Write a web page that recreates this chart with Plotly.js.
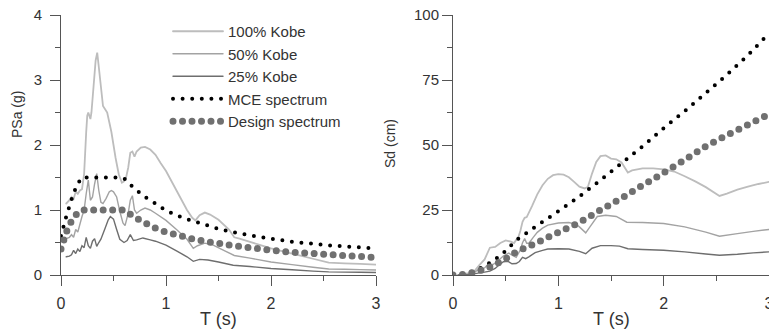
<!DOCTYPE html>
<html><head><meta charset="utf-8">
<script src="https://cdn.plot.ly/plotly-3.0.1.min.js"></script>
<style>
html,body{margin:0;padding:0;background:#fff;}
#chart{width:769px;height:333px;}
.js-line{stroke-linecap:round;}
</style></head>
<body><div id="chart"></div>
<script>
// ---- Left panel: pseudo-spectral acceleration PSa (g) vs period T (s)
const psaT100 = [0.05,0.08,0.10,0.12,0.14,0.16,0.18,0.20,0.22,0.24,0.25,0.26,0.27,0.28,0.29,0.31,0.33,0.345,0.36,0.38,0.40,0.42,0.44,0.46,0.48,0.50,0.52,0.55,0.58,0.60,0.62,0.64,0.66,0.68,0.70,0.72,0.76,0.80,0.85,0.90,0.95,1.00,1.05,1.10,1.15,1.20,1.25,1.28,1.32,1.37,1.42,1.50,1.60,1.65,1.70,1.80,1.90,2.00,2.20,2.40,2.55,2.70,2.85,3.00];
const psa100  = [1.10,1.15,1.20,1.17,1.28,1.25,1.30,1.32,1.55,2.20,2.45,2.50,2.45,2.40,2.50,2.90,3.30,3.42,3.20,2.90,2.60,2.55,2.50,2.35,2.20,2.00,1.80,1.55,1.42,1.44,1.50,1.65,1.88,1.90,1.82,1.90,1.96,1.97,1.93,1.85,1.72,1.60,1.45,1.30,1.15,1.00,0.88,0.84,0.92,0.96,0.93,0.85,0.70,0.58,0.56,0.51,0.46,0.41,0.33,0.25,0.19,0.18,0.17,0.16];

const psaT50 = [0.05,0.08,0.10,0.12,0.14,0.16,0.18,0.20,0.22,0.24,0.26,0.28,0.30,0.32,0.34,0.36,0.38,0.40,0.43,0.46,0.48,0.50,0.53,0.56,0.59,0.61,0.64,0.66,0.68,0.70,0.72,0.76,0.80,0.85,0.90,1.00,1.10,1.20,1.26,1.30,1.37,1.45,1.55,1.65,1.80,2.00,2.20,2.40,2.55,2.70,2.85,3.00];
const psa50  = [0.56,0.58,0.62,0.58,0.70,0.66,0.78,0.90,1.00,1.25,1.46,1.15,1.20,1.40,1.56,1.30,1.12,1.10,1.18,1.28,1.30,1.28,1.20,0.98,0.80,0.76,0.95,1.15,1.22,1.00,0.95,1.00,1.03,1.00,0.95,0.84,0.70,0.55,0.41,0.45,0.49,0.46,0.38,0.30,0.26,0.20,0.16,0.12,0.092,0.088,0.083,0.078];

const psaT25 = [0.05,0.08,0.10,0.12,0.14,0.16,0.18,0.20,0.22,0.24,0.26,0.28,0.30,0.32,0.34,0.36,0.38,0.42,0.45,0.47,0.50,0.53,0.56,0.60,0.63,0.66,0.69,0.72,0.78,0.85,0.90,1.00,1.10,1.20,1.26,1.32,1.40,1.50,1.64,1.80,2.00,2.20,2.40,2.55,2.70,2.85,3.00];
const psa25  = [0.28,0.29,0.31,0.38,0.33,0.40,0.36,0.45,0.42,0.58,0.45,0.41,0.52,0.56,0.44,0.50,0.55,0.72,0.85,0.90,0.86,0.70,0.55,0.50,0.53,0.62,0.53,0.54,0.57,0.54,0.52,0.46,0.37,0.28,0.21,0.24,0.23,0.20,0.15,0.13,0.10,0.08,0.06,0.048,0.045,0.042,0.039];

const psaTcode = [0,0.05,0.1,0.15,0.2,0.3,0.4,0.5,0.6,0.7,0.8,0.9,1.0,1.1,1.2,1.3,1.4,1.5,1.6,1.8,2.0,2.2,2.4,2.6,2.8,3.0];
const psaMce   = [0.60,0.90,1.16,1.38,1.50,1.50,1.50,1.50,1.49,1.33,1.20,1.10,0.99,0.92,0.86,0.81,0.76,0.71,0.67,0.61,0.56,0.51,0.48,0.45,0.43,0.41];
const psaDes   = [0.40,0.66,0.83,0.94,1.00,1.00,1.00,1.00,1.00,0.89,0.80,0.72,0.66,0.62,0.575,0.54,0.51,0.49,0.46,0.42,0.38,0.35,0.33,0.31,0.29,0.27];

// ---- Right panel: spectral displacement Sd (cm) vs period T (s)
const sdT100 = [0.05,0.10,0.15,0.20,0.25,0.30,0.35,0.40,0.45,0.50,0.55,0.58,0.60,0.62,0.64,0.66,0.68,0.70,0.75,0.80,0.85,0.90,0.95,1.00,1.05,1.10,1.15,1.20,1.25,1.28,1.32,1.36,1.40,1.45,1.50,1.55,1.60,1.66,1.70,1.80,1.90,2.00,2.10,2.20,2.30,2.40,2.53,2.60,2.70,2.80,2.90,3.00];
const sd100  = [0.07,0.3,0.7,1.3,3.8,6.0,10.5,10.8,12.3,13.3,12.8,12.3,13.5,14.5,17.0,20.5,22.0,22.3,26.5,31.0,34.5,37.0,38.4,38.8,38.6,37.6,35.8,34.0,33.3,33.8,39.0,43.5,45.7,46.0,44.8,44.5,43.3,39.4,40.2,41.0,41.0,40.6,39.8,38.0,36.0,33.8,30.4,31.3,32.8,34.0,35.0,35.8];

const sdT50 = [0.05,0.10,0.15,0.20,0.25,0.30,0.34,0.38,0.42,0.48,0.53,0.56,0.60,0.64,0.66,0.68,0.70,0.72,0.76,0.80,0.85,0.90,1.00,1.10,1.17,1.20,1.26,1.30,1.37,1.45,1.55,1.65,1.80,2.00,2.20,2.40,2.53,2.70,2.85,3.00];
const sd50  = [0.03,0.15,0.4,0.9,2.3,2.7,4.4,4.0,5.2,7.4,8.4,7.6,6.8,9.7,12.4,14.0,12.2,12.2,14.4,16.4,18.0,19.2,20.0,20.2,19.5,18.5,16.2,18.5,22.5,23.0,22.5,20.3,20.2,19.8,18.5,16.5,14.9,15.9,16.8,17.5];

const sdT25 = [0.05,0.10,0.15,0.20,0.25,0.30,0.35,0.40,0.45,0.48,0.52,0.56,0.60,0.63,0.66,0.69,0.72,0.78,0.85,0.90,1.00,1.10,1.20,1.26,1.32,1.40,1.50,1.58,1.66,1.80,2.00,2.20,2.40,2.53,2.70,2.85,3.00];
const sd25  = [0.02,0.08,0.23,0.45,0.8,1.1,1.5,2.5,4.3,5.1,5.3,4.3,4.4,5.2,6.8,6.3,7.0,8.6,9.5,10.0,10.1,10.0,9.1,8.2,10.3,11.3,11.3,11.1,10.1,9.8,9.5,8.9,8.1,7.6,8.0,8.5,8.9];

const sdTcode = [0,0.1,0.2,0.3,0.4,0.5,0.6,0.7,0.8,0.9,1.0,1.2,1.4,1.6,1.8,2.0,2.2,2.4,2.6,2.8,3.0];
const sdMce   = [0,0.3,1.5,3.4,6.0,9.3,13.4,16.2,19.1,21.8,24.5,30.2,36.5,43.0,49.5,56.5,63.0,70.0,77.0,84.5,93.0];
const sdDes   = [0,0.2,1.0,2.2,4.0,6.2,8.9,10.7,12.4,14.5,16.4,20.2,25.0,29.5,34.5,39.3,44.3,49.5,53.8,57.8,61.8];

const names = ['100% Kobe','50% Kobe','25% Kobe','MCE spectrum','Design spectrum'];
const xTitle = 'T (s)';
const yTitleL = 'PSa (g)';
const yTitleR = 'Sd (cm)';

// ---- styles
const FONT = 'Liberation Sans, Arial, sans-serif';
const TXT = '#333333';
const styles = [
  {color:'#bdbdbd', width:1.8, dash:'solid'},
  {color:'#a3a3a3', width:1.4, dash:'solid'},
  {color:'#6e6e6e', width:1.4, dash:'solid'},
  {color:'#000000', width:4,   dash:'0px,9.6px'},
  {color:'#707070', width:7,   dash:'0px,9.5px'}
];

function tr(x, y, i, xa, ya, showleg) {
  return {x:x, y:y, type:'scatter', mode:'lines', name:names[i],
    line:{color:styles[i].color, width:styles[i].width, dash:styles[i].dash, simplify:false},
    xaxis:xa, yaxis:ya, showlegend:showleg, hoverinfo:'skip'};
}

const data = [
  tr(psaT100, psa100, 0, 'x', 'y', true),
  tr(psaT50,  psa50,  1, 'x', 'y', true),
  tr(psaT25,  psa25,  2, 'x', 'y', true),
  tr(psaTcode, psaMce, 3, 'x', 'y', true),
  tr(psaTcode, psaDes, 4, 'x', 'y', true),
  tr(sdT100, sd100, 0, 'x2', 'y2', false),
  tr(sdT50,  sd50,  1, 'x2', 'y2', false),
  tr(sdT25,  sd25,  2, 'x2', 'y2', false),
  tr(sdTcode, sdMce, 3, 'x2', 'y2', false),
  tr(sdTcode, sdDes, 4, 'x2', 'y2', false)
];

const W = 769, TOP = 15, BOT = 275;
const px2x = p => p / W;
const px2y = p => (BOT - p) / (BOT - TOP);

function xax(d0, d1, anchor, extra) {
  return Object.assign({
    domain:[d0/W, d1/W], anchor:anchor, range:[0,3], dtick:1, tick0:0,
    showgrid:false, zeroline:false, showline:true, linecolor:'#555', linewidth:1,
    ticks:'outside', ticklen:10, tickcolor:'#555', tickwidth:1, ticklabelstandoff:4,
    minor:{dtick:0.5, ticks:'outside', ticklen:5, tickcolor:'#555', tickwidth:1, showgrid:false},
    tickfont:{family:FONT, size:16, color:TXT},
    fixedrange:true
  }, extra||{});
}
function yax(r, dt, anchor, extra) {
  return Object.assign({
    domain:[0,1], anchor:anchor, range:r, dtick:dt, tick0:0,
    showgrid:false, zeroline:false, showline:true, linecolor:'#555', linewidth:1,
    ticks:'outside', ticklen:10, tickcolor:'#555', tickwidth:1,
    minor:{dtick:dt/2, ticks:'outside', ticklen:5, tickcolor:'#555', tickwidth:1, showgrid:false},
    tickfont:{family:FONT, size:15, color:TXT},
    fixedrange:true
  }, extra||{});
}

const titleFont = {family:FONT, size:18, color:TXT};
const yTitleFont = {family:FONT, size:14, color:TXT};

const layout = {
  width:769, height:333,
  margin:{l:0, r:0, t:TOP, b:333-BOT, pad:0},
  paper_bgcolor:'#ffffff', plot_bgcolor:'rgba(0,0,0,0)',
  font:{family:FONT, color:TXT},
  xaxis: xax(61, 376, 'y'),
  yaxis: yax([0,4], 1, 'x', {ticklabelstandoff:5}),
  xaxis2: xax(453, 769, 'y2', {ticklabeloverflow:'allow'}),
  yaxis2: yax([0,100], 25, 'x2'),
  annotations:[
    {text:xTitle, xref:'paper', yref:'paper', x:px2x(218.5), y:px2y(318.5), xanchor:'center', yanchor:'middle', showarrow:false, font:titleFont},
    {text:xTitle, xref:'paper', yref:'paper', x:px2x(611), y:px2y(318.5), xanchor:'center', yanchor:'middle', showarrow:false, font:titleFont},
    {text:yTitleL, xref:'paper', yref:'paper', x:px2x(17), y:px2y(115), xanchor:'center', yanchor:'middle', textangle:-90, showarrow:false, font:yTitleFont},
    {text:yTitleR, xref:'paper', yref:'paper', x:px2x(390), y:px2y(144), xanchor:'center', yanchor:'middle', textangle:-90, showarrow:false, font:yTitleFont}
  ],
  showlegend:true,
  legend:{x:168/W, xanchor:'left', y:1.0, yanchor:'top', bgcolor:'rgba(0,0,0,0)',
          borderwidth:0, font:{family:FONT, size:15, color:TXT}, itemwidth:50,
          tracegroupgap:0, traceorder:'normal'}
};

Plotly.newPlot('chart', data, layout, {staticPlot:true, displayModeBar:false});
</script></body></html>
